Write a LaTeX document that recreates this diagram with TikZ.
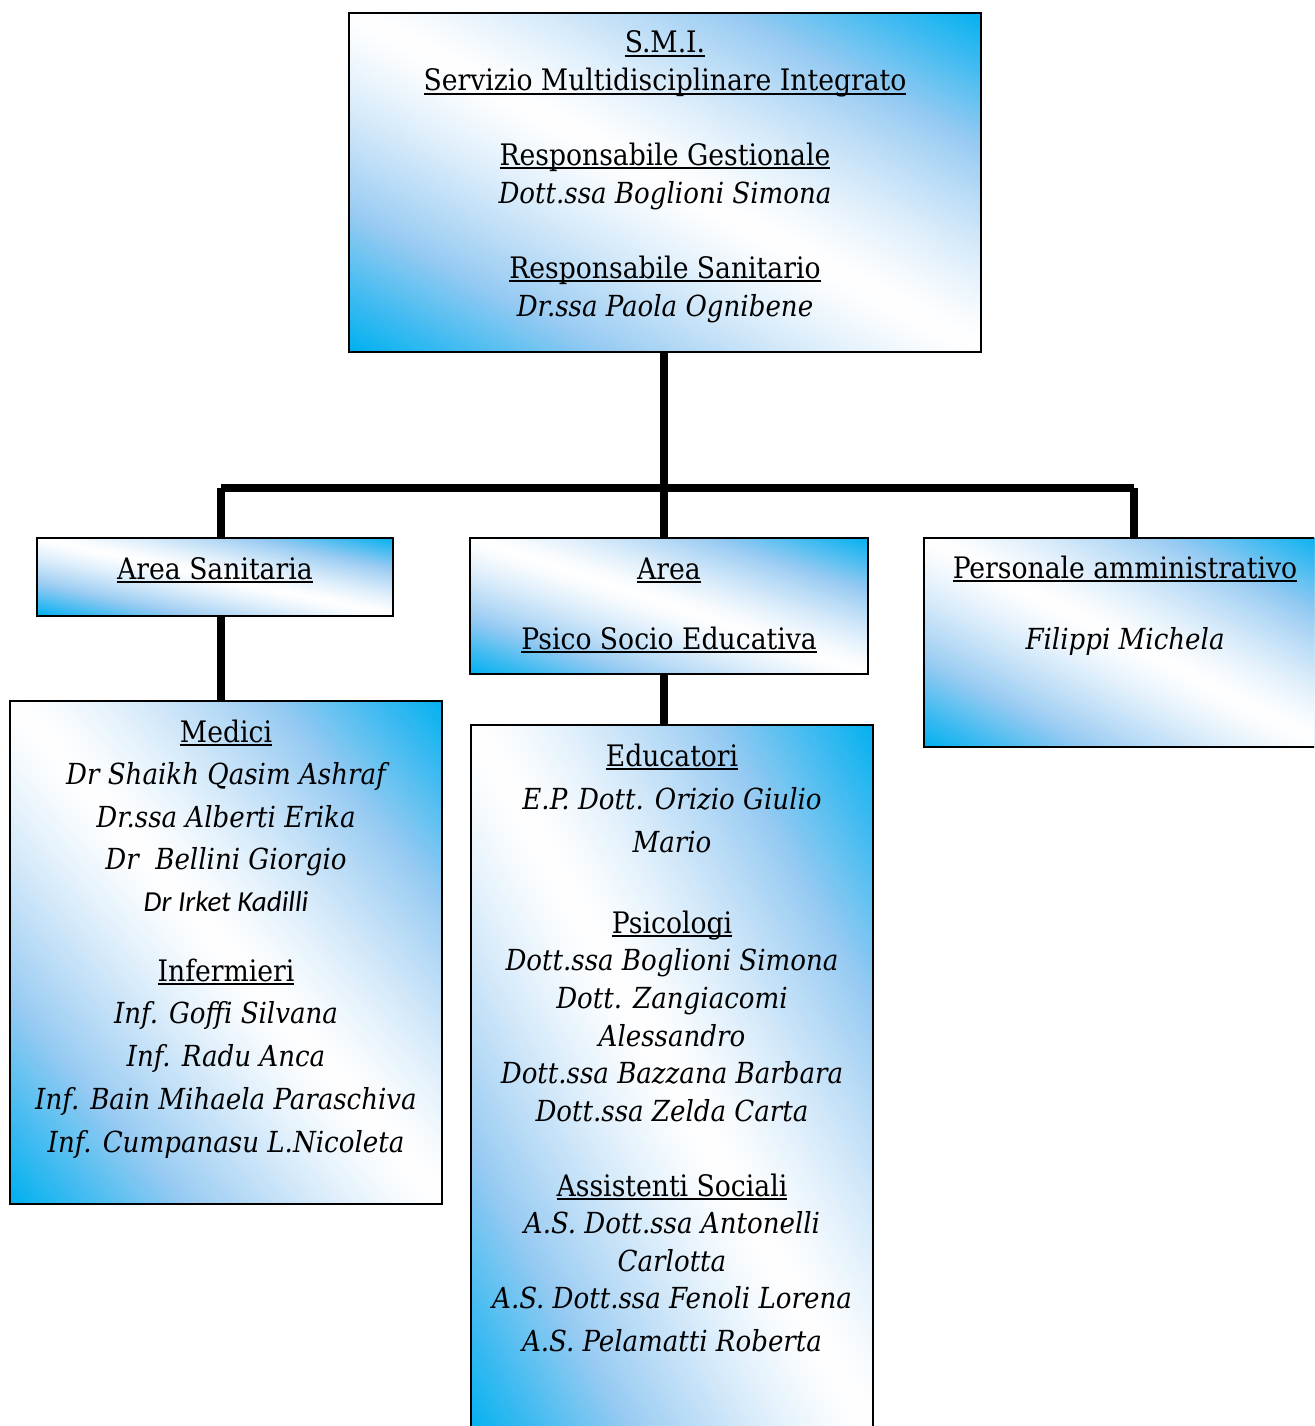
\documentclass[tikz,border=0pt]{standalone}
\usepackage{fontspec}
\IfFontExistsTF{DejaVu Serif Condensed}{\setmainfont{DejaVu Serif Condensed}}{\setmainfont{DejaVu Serif}}
\newfontfamily\calib{Carlito}
\definecolor{smiblue}{RGB}{0,176,240}
\definecolor{midblue}{RGB}{150,202,242}
\newcommand\myul[1]{\setbox0\hbox{#1}\rlap{\rule[-4pt]{\wd0}{1.8pt}}\box0}
\newcommand\gsteps{140}
\newcommand\gradfill[4]{%
  \begin{scope}[shift={(#1,#2)}, x={(#3pt,0pt)}, y={(0pt,-#4pt)}]
    \clip (0,0) rectangle (1,1);
    \foreach \i in {0,...,\gsteps}{
      \pgfmathsetmacro\s{-1+2*\i/\gsteps}
      \pgfmathsetmacro\t{max(abs(\s),0.001)}
      \ifdim\t pt<0.6pt
        \pgfmathtruncatemacro\p{round(100*(\t/0.6)^1.3)}
        \fill[midblue!\p!white] (\s-2,-2) -- (\s+2,2) -- (3,2) -- (3,-2) -- cycle;
      \else
        \pgfmathtruncatemacro\p{round(100*(\t-0.6)/0.4)}
        \fill[smiblue!\p!midblue] (\s-2,-2) -- (\s+2,2) -- (3,2) -- (3,-2) -- cycle;
      \fi
    }
  \end{scope}}
\tikzset{
  box/.style={draw=black, line width=2pt, rectangle, inner sep=0pt},
  conn/.style={line width=8pt, black, line cap=butt},
  txt/.style={anchor=base, inner sep=0pt, font=\fontsize{29.6}{36}\selectfont},
  itx/.style={anchor=base, inner sep=0pt, font=\fontsize{29}{36}\selectfont\itshape},
}
\begin{document}
\begin{tikzpicture}[x=1pt,y=-1pt]
\useasboundingbox (0,0) rectangle (1314,1426);
\clip (0,0) rectangle (1314,1426);
% gradients
\gradfill{349}{13}{632}{339}
\gradfill{37}{538}{356}{78}
\gradfill{470}{538}{398}{136}
\gradfill{924}{538}{402}{209}
\gradfill{10}{701}{432}{503}
\gradfill{471}{725}{402}{715}
% connector points
\coordinate (hub) at (664,488);
\coordinate (hl) at (221,488);
\coordinate (hr) at (1134,488);
% boxes
\node[box, minimum width=632pt, minimum height=339pt] (top) at (665,182.5) {};
\node[box, minimum width=356pt, minimum height=78pt] (AS) at (215,577) {};
\node[box, minimum width=398pt, minimum height=136pt] (PSE) at (669,606) {};
\node[box, minimum width=402pt, minimum height=209pt] (PA) at (1125,642.5) {};
\node[box, minimum width=432pt, minimum height=503pt] (MED) at (226,952.5) {};
\node[box, minimum width=402pt, minimum height=715pt] (EDU) at (672,1082.5) {};
\draw[conn] (hub |- top.south) -- (hub);
\draw[conn] (hl) -- (hr);
\draw[conn] (hl) -- (hl |- AS.north);
\draw[conn] (hr) -- (hr |- PA.north);
\draw[conn] (hub) -- (hub |- PSE.north);
\draw[conn] (hl |- AS.south) -- (hl |- MED.north);
\draw[conn] (hub |- PSE.south) -- (hub |- EDU.north);
% top texts
\node[txt] (t1) at (665,53) {\myul{S.M.I.}};
\node[txt] (t2) at (665,91) {\myul{Servizio Multidisciplinare Integrato}};
\node[txt] (t3) at (665,165) {\myul{Responsabile Gestionale}};
\node[itx] (t4) at (665,203) {Dott.ssa Boglioni Simona};
\node[txt] (t5) at (665,278) {\myul{Responsabile Sanitario}};
\node[itx] (t6) at (665,316) {Dr.ssa Paola Ognibene};
% area
\node[txt] (a1) at (215,579) {\myul{Area Sanitaria}};
\node[txt] (p1) at (669,579) {\myul{Area}};
\node[txt] (p2) at (669,649) {\myul{Psico Socio Educativa}};
\node[txt] (q1) at (1125,578) {\myul{Personale amministrativo}};
\node[itx] (q2) at (1125,649) {Filippi Michela};
% medici
\node[txt] (m1) at (226,742) {\myul{Medici}};
\node[itx] (m2) at (226,784.5) {Dr Shaikh Qasim Ashraf};
\node[itx] (m3) at (226,827) {Dr.ssa Alberti Erika};
\node[itx] (m4) at (226,869.5) {Dr~~Bellini Giorgio};
\node[itx, font=\calib\itshape\fontsize{29}{36}\selectfont] (m5) at (226,911) {Dr Irket Kadilli};
\node[txt] (m6) at (226,981) {\myul{Infermieri}};
\node[itx] (m7) at (226,1023) {Inf. Goffi Silvana};
\node[itx] (m8) at (226,1066) {Inf. Radu Anca};
\node[itx] (m9) at (226,1109) {Inf. Bain Mihaela Paraschiva};
\node[itx] (m10) at (226,1152) {Inf. Cumpanasu L.Nicoleta};
% educatori
\node[txt] (e1) at (672,766) {\myul{Educatori}};
\node[itx] (e2) at (672,809) {E.P. Dott. Orizio Giulio};
\node[itx] (e3) at (672,852) {Mario};
\node[txt] (e4) at (672,933) {\myul{Psicologi}};
\node[itx] (e5) at (672,970) {Dott.ssa Boglioni Simona};
\node[itx] (e6) at (672,1008) {Dott. Zangiacomi};
\node[itx] (e7) at (672,1046) {Alessandro};
\node[itx] (e8) at (672,1083) {Dott.ssa Bazzana Barbara};
\node[itx] (e9) at (672,1121) {Dott.ssa Zelda Carta};
\node[txt] (e10) at (672,1196) {\myul{Assistenti Sociali}};
\node[itx] (e11) at (672,1233) {A.S. Dott.ssa Antonelli};
\node[itx] (e12) at (672,1271) {Carlotta};
\node[itx] (e13) at (672,1308) {A.S. Dott.ssa Fenoli Lorena};
\node[itx] (e14) at (672,1351) {A.S. Pelamatti Roberta};
\end{tikzpicture}
\end{document}
